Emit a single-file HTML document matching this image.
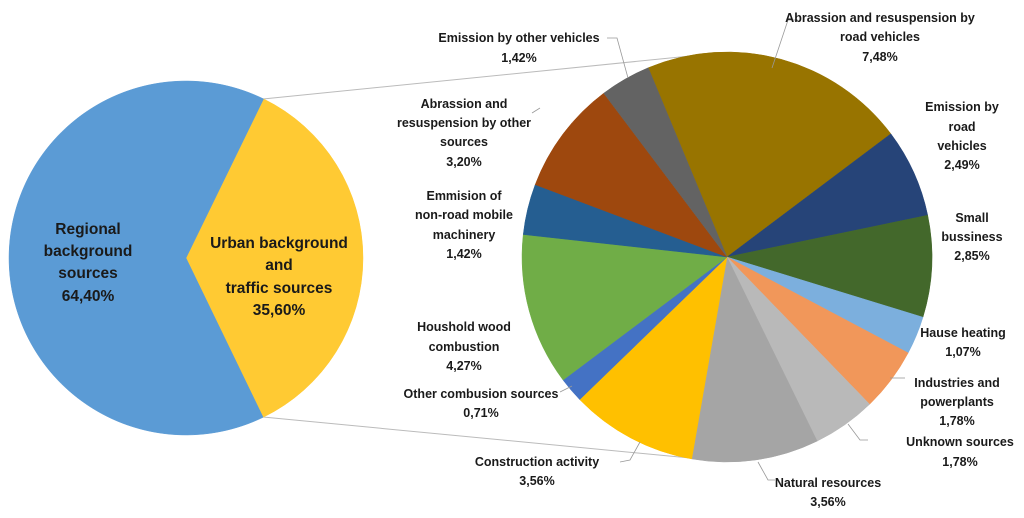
<!DOCTYPE html>
<html><head><meta charset="utf-8"><style>
html,body{margin:0;padding:0;background:#fff;}
svg{display:block;}
text{font-family:"Liberation Sans",sans-serif;font-weight:bold;fill:#1a1a1a;text-anchor:middle;}
.s{font-size:12.5px;}
.b{font-size:15.5px;}
</style></head><body>
<svg id="chart" width="1024" height="518" viewBox="0 0 1024 518" xmlns="http://www.w3.org/2000/svg">
<g id="connectors">
<line x1="263" y1="99" x2="690" y2="56" stroke="#bbb" stroke-width="1"/>
<line x1="263" y1="417" x2="690" y2="458" stroke="#bbb" stroke-width="1"/>
</g>
<g id="left"></g>
<g id="right"></g>
<g stroke="#999" stroke-width="0.8" fill="none">
<polyline points="607,38 617,38 628,78"/>
<polyline points="798,20 788,20 772,68"/>
<polyline points="560,392 572,386"/>
<polyline points="620,462 630,460 640,442"/>
<polyline points="758,462 768,480 775,480"/>
<polyline points="848,424 860,440 868,440"/>
<polyline points="890,378 905,378"/>
<polyline points="532,113 540,108"/>
</g>
<g>
<text class="b" x="88" y="234">Regional</text>
<text class="b" x="88" y="256">background</text>
<text class="b" x="88" y="278">sources</text>
<text class="b" x="88" y="301">64,40%</text>
<text class="b" x="279" y="248">Urban background</text>
<text class="b" x="279" y="270">and</text>
<text class="b" x="279" y="293">traffic sources</text>
<text class="b" x="279" y="315">35,60%</text>
</g>
<g class="s">
<text class="s" x="519" y="42">Emission by other vehicles</text>
<text class="s" x="519" y="62">1,42%</text>
<text class="s" x="880" y="22">Abrassion and resuspension by</text>
<text class="s" x="880" y="41">road vehicles</text>
<text class="s" x="880" y="61">7,48%</text>
<text class="s" x="962" y="111">Emission by</text>
<text class="s" x="962" y="131">road</text>
<text class="s" x="962" y="150">vehicles</text>
<text class="s" x="962" y="169">2,49%</text>
<text class="s" x="972" y="222">Small</text>
<text class="s" x="972" y="241">bussiness</text>
<text class="s" x="972" y="260">2,85%</text>
<text class="s" x="963" y="337">Hause heating</text>
<text class="s" x="963" y="356">1,07%</text>
<text class="s" x="957" y="387">Industries and</text>
<text class="s" x="957" y="406">powerplants</text>
<text class="s" x="957" y="425">1,78%</text>
<text class="s" x="960" y="446">Unknown sources</text>
<text class="s" x="960" y="466">1,78%</text>
<text class="s" x="828" y="487">Natural resources</text>
<text class="s" x="828" y="506">3,56%</text>
<text class="s" x="537" y="466">Construction activity</text>
<text class="s" x="537" y="485">3,56%</text>
<text class="s" x="481" y="398">Other combusion sources</text>
<text class="s" x="481" y="417">0,71%</text>
<text class="s" x="464" y="331">Houshold wood</text>
<text class="s" x="464" y="351">combustion</text>
<text class="s" x="464" y="370">4,27%</text>
<text class="s" x="464" y="200">Emmision of</text>
<text class="s" x="464" y="219">non-road mobile</text>
<text class="s" x="464" y="239">machinery</text>
<text class="s" x="464" y="258">1,42%</text>
<text class="s" x="464" y="108">Abrassion and</text>
<text class="s" x="464" y="127">resuspension by other</text>
<text class="s" x="464" y="146">sources</text>
<text class="s" x="464" y="166">3,20%</text>
</g>
</svg>
<script>
const leftCategories = ["Urban background and traffic sources", "Regional background sources"];
const leftValues = [35.60, 64.40];
const leftColors = ["#FFCA33", "#5B9BD5"];
const rightCategories = ["Abrassion and resuspension by road vehicles","Emission by road vehicles","Small bussiness","Hause heating","Industries and powerplants","Unknown sources","Natural resources","Construction activity","Other combusion sources","Houshold wood combustion","Emmision of non-road mobile machinery","Abrassion and resuspension by other sources","Emission by other vehicles"];
const rightValues = [7.48,2.49,2.85,1.07,1.78,1.78,3.56,3.56,0.71,4.27,1.42,3.20,1.42];
const rightColors = ["#987400","#264478","#43682B","#7CAFDD","#F1975A","#B9B9B9","#A5A5A5","#FFC000","#4472C4","#70AD47","#255E91","#9E480E","#636363"];
const NS="http://www.w3.org/2000/svg";
function drawPie(g, cx, cy, r, vals, cols, names, startDeg, prefix){
  const total = vals.reduce((a,b)=>a+b,0);
  let a = startDeg*Math.PI/180;
  vals.forEach((v,i)=>{
    const span = v/total*2*Math.PI;
    const a2 = a+span;
    const x1=cx+r*Math.sin(a), y1=cy-r*Math.cos(a);
    const x2=cx+r*Math.sin(a2), y2=cy-r*Math.cos(a2);
    const large = span>Math.PI?1:0;
    const p=document.createElementNS(NS,"path");
    p.setAttribute("d",`M${cx},${cy}L${x1},${y1}A${r},${r} 0 ${large} 1 ${x2},${y2}Z`);
    p.setAttribute("fill",cols[i]);
    p.setAttribute("stroke",cols[i]);
    p.setAttribute("stroke-width","0.5");
    
    
    g.appendChild(p);
    a=a2;
  });
}
drawPie(document.getElementById("left"),186,258,177,leftValues,leftColors,leftCategories,26,"left");
drawPie(document.getElementById("right"),727,257,205,rightValues,rightColors,rightCategories,-22.6,"right");
</script>
</body></html>
